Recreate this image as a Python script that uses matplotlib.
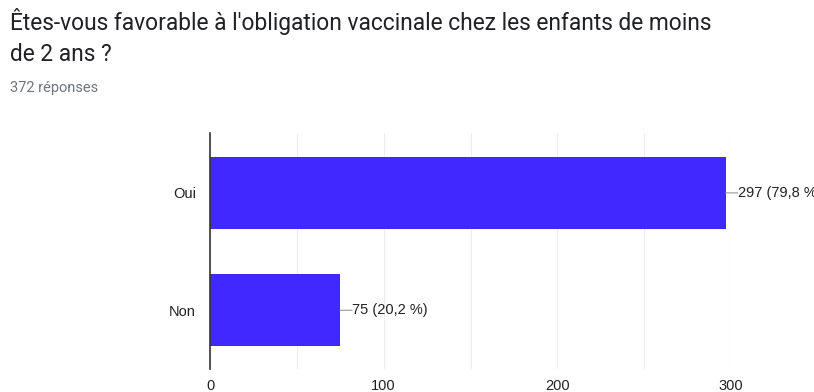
import matplotlib
matplotlib.use("Agg")
import matplotlib.pyplot as plt
from matplotlib.ticker import MultipleLocator

categories = ["Oui", "Non"]
counts = [297, 75]
percents = ["79,8", "20,2"]
total = 372
title = "Êtes-vous favorable à l'obligation vaccinale chez les enfants de moins\nde 2 ans ?"
x_ticks = [0, 100, 200, 300]

bar_color = "#4029FF"
grid_color = "#EDEDED"
text_color = "#222222"
label_font = "Liberation Sans"

fig = plt.figure(figsize=(8.14, 3.92), dpi=100)
ax = fig.add_axes([210 / 814, 1 - 369 / 392, (731 - 210) / 814, (369 - 133) / 392])

ypos = list(range(len(categories)))
ax.barh(ypos, counts, height=0.615, color=bar_color, zorder=3)

ax.set_xlim(0, 300)
ax.set_ylim(len(categories) - 0.5, -0.51)
ax.set_xticks(x_ticks)
ax.set_xticklabels([str(t) for t in x_ticks], fontsize=10.5, color=text_color,
                   family=label_font)
ax.xaxis.set_minor_locator(MultipleLocator(50))
ax.set_yticks(ypos)
ax.set_yticklabels(categories, fontsize=10.5, color=text_color, family=label_font)
ax.tick_params(axis="both", which="both", length=0)
ax.tick_params(axis="y", pad=10)
ax.tick_params(axis="x", pad=7)

ax.grid(axis="x", which="both", color=grid_color, linewidth=0.8, zorder=0)
for s in ["top", "right", "bottom"]:
    ax.spines[s].set_visible(False)
ax.spines["left"].set_color("#333333")
ax.spines["left"].set_linewidth(1.2)
ax.spines["left"].set_zorder(4)
ax.axvline(300, color="#E8E8E8", linewidth=0.8, zorder=1)
ax.axhline(len(categories) - 0.5, color="#F2F2F2", linewidth=0.8, zorder=1)

# value labels with a short leader line at the end of each bar
for y, c, p in zip(ypos, counts, percents):
    ax.annotate("", xy=(c, y), xytext=(c + 6.8, y),
                arrowprops=dict(arrowstyle="-", color="#999999", linewidth=0.8,
                                shrinkA=0, shrinkB=0),
                annotation_clip=False)
    ax.text(c + 7.0, y, f"{c} ({p} %)", va="center", ha="left", fontsize=10.5,
            color=text_color, family=label_font, clip_on=False)

fig.text(10 / 814, 1 - 8 / 392, title, ha="left", va="top", fontsize=16.4,
         family="Roboto", color="#202124", linespacing=1.45)
fig.text(10 / 814, 1 - 81 / 392, f"{total} réponses", ha="left", va="top",
         fontsize=10.5, family="Roboto", color="#70757A")

fig.savefig("out.png", dpi=100)
